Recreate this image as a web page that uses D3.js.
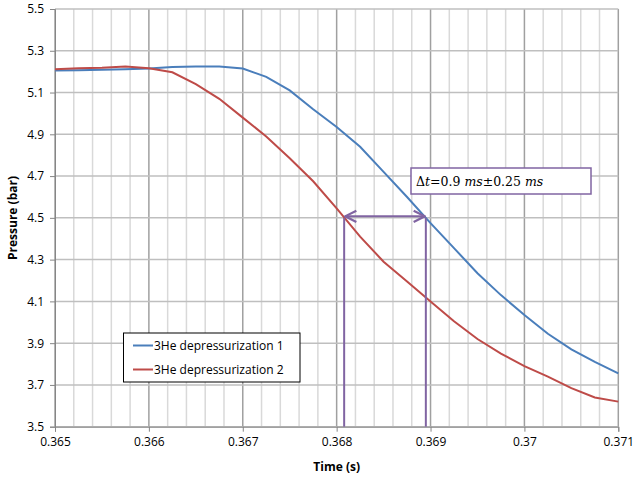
<!DOCTYPE html>
<html><head><meta charset="utf-8">
<script src="https://cdnjs.cloudflare.com/ajax/libs/d3/7.8.5/d3.min.js"></script>
<style>body{margin:0;background:#fff}svg{display:block}</style>
</head><body><svg id="c" width="634" height="479"></svg>
<script>
const times = [0.365,0.36525,0.3655,0.36575,0.366,0.36625,0.3665,0.36675,0.367,0.36725,0.3675,0.36775,0.368,0.36825,0.3685,0.36875,0.369,0.36925,0.3695,0.36975,0.37,0.37025,0.3705,0.37075,0.371];
const series1 = [5.205,5.207,5.209,5.211,5.215,5.222,5.225,5.225,5.215,5.175,5.11,5.02,4.935,4.84,4.72,4.60,4.475,4.355,4.235,4.13,4.035,3.945,3.87,3.81,3.755];
const series2 = [5.211,5.216,5.219,5.225,5.216,5.197,5.14,5.07,4.98,4.89,4.785,4.675,4.545,4.41,4.29,4.195,4.1,4.005,3.92,3.85,3.79,3.74,3.685,3.64,3.62];
const seriesNames = ["3He depressurization 1","3He depressurization 2"];
const xTicks = [0.365,0.366,0.367,0.368,0.369,0.37,0.371];
const xTickLabels = ["0.365","0.366","0.367","0.368","0.369","0.37","0.371"];
const xMinor = d3.range(0,31).map(i=>0.365+i*0.0002);
const yTicks = [3.5,3.7,3.9,4.1,4.3,4.5,4.7,4.9,5.1,5.3,5.5];
const markerTimes = [0.36808,0.36895];
const markerLevel = 4.5;
const annotation = "Δt=0.9 ms±0.25 ms";

const svg = d3.select("#c");
const font = "'Open Sans', sans-serif";
const x = d3.scaleLinear().domain([0.365,0.371]).range([55,618.3]);
const y = d3.scaleLinear().domain([3.5,5.5]).range([426.7,9]);

// gridlines
svg.append("g").selectAll("line").data(xMinor).join("line")
  .attr("x1",d=>x(d)).attr("x2",d=>x(d)).attr("y1",y(3.5)).attr("y2",y(5.5))
  .attr("stroke",(d,i)=>i%5===0?"#a0a0a0":"#d9d9d9").attr("stroke-width",1.5);
svg.append("g").selectAll("line").data(yTicks).join("line")
  .attr("x1",x(0.365)).attr("x2",x(0.371)).attr("y1",d=>y(d)).attr("y2",d=>y(d))
  .attr("stroke","#bfbfbf").attr("stroke-width",1.5);

// axes
const ax = svg.append("g").attr("transform",`translate(0,${y(3.5)})`)
  .call(d3.axisBottom(x).tickValues(xTicks).tickFormat((d,i)=>xTickLabels[i]).tickSize(5).tickPadding(6));
const ay = svg.append("g").attr("transform",`translate(${x(0.365)},0)`)
  .call(d3.axisLeft(y).tickValues(yTicks).tickFormat(d3.format(".1f")).tickSize(5).tickPadding(6));
[ax,ay].forEach(a=>{
  a.select(".domain").attr("stroke","#868686").attr("stroke-width",1);
  a.selectAll(".tick line").attr("stroke","#868686");
  a.selectAll("text").attr("font-family",font).attr("font-size",12).attr("fill","#000");
});

// lines
const line = d3.line().x((d,i)=>x(times[i])).y(d=>y(d));
svg.append("path").datum(series1).attr("d",line).attr("fill","none").attr("stroke","#4A7EBB").attr("stroke-width",2);
svg.append("path").datum(series2).attr("d",line).attr("fill","none").attr("stroke","#BE4B48").attr("stroke-width",2);

// annotation markers
const purple = "#8064A2";
svg.append("defs").html(`<marker id="ah" viewBox="0 0 10 10" refX="9" refY="5" markerWidth="7" markerHeight="7" orient="auto-start-reverse"><path d="M1,1 L9,5 L1,9" fill="none" stroke="${purple}" stroke-width="1.6"/></marker>`);
markerTimes.forEach(t=>{
  svg.append("line").attr("x1",x(t)).attr("x2",x(t)).attr("y1",y(3.5)).attr("y2",y(markerLevel))
    .attr("stroke",purple).attr("stroke-width",2);
});
svg.append("line").attr("x1",x(markerTimes[0])+1).attr("x2",x(markerTimes[1])-1)
  .attr("y1",y(markerLevel)-1.5).attr("y2",y(markerLevel)-1.5)
  .attr("stroke",purple).attr("stroke-width",2)
  .attr("marker-start","url(#ah)").attr("marker-end","url(#ah)");

// text box
svg.append("rect").attr("x",411).attr("y",168).attr("width",180).attr("height",26)
  .attr("fill","#fff").attr("stroke",purple).attr("stroke-width",1.5);
const tb = svg.append("text").attr("x",416).attr("y",186).attr("font-family","'DejaVu Serif', 'Liberation Serif', serif").attr("font-size",12.5).attr("fill","#000");
tb.append("tspan").text("Δ");
tb.append("tspan").attr("font-style","italic").text("t");
tb.append("tspan").text("=0.9 ");
tb.append("tspan").attr("font-style","italic").text("ms");
tb.append("tspan").text("±0.25 ");
tb.append("tspan").attr("font-style","italic").text("ms");

// legend
svg.append("rect").attr("x",123.5).attr("y",333).attr("width",176.5).attr("height",49)
  .attr("fill","#fff").attr("stroke","#000").attr("stroke-width",1);
const colors = ["#4A7EBB","#BE4B48"];
seriesNames.forEach((n,i)=>{
  const yy = 345.5 + i*24;
  svg.append("line").attr("x1",133).attr("x2",153).attr("y1",yy).attr("y2",yy).attr("stroke",colors[i]).attr("stroke-width",2);
  svg.append("text").attr("x",154).attr("y",yy+4).attr("font-family",font).attr("font-size",12).attr("fill","#000").text(n);
});

// axis titles
svg.append("text").attr("x",336.7).attr("y",471).attr("text-anchor","middle").attr("font-family",font)
  .attr("font-size",12).attr("font-weight","bold").text("Time (s)");
svg.append("text").attr("transform","translate(17,218) rotate(-90)").attr("text-anchor","middle").attr("font-family",font)
  .attr("font-size",12).attr("font-weight","bold").text("Pressure (bar)");
</script></body></html>
